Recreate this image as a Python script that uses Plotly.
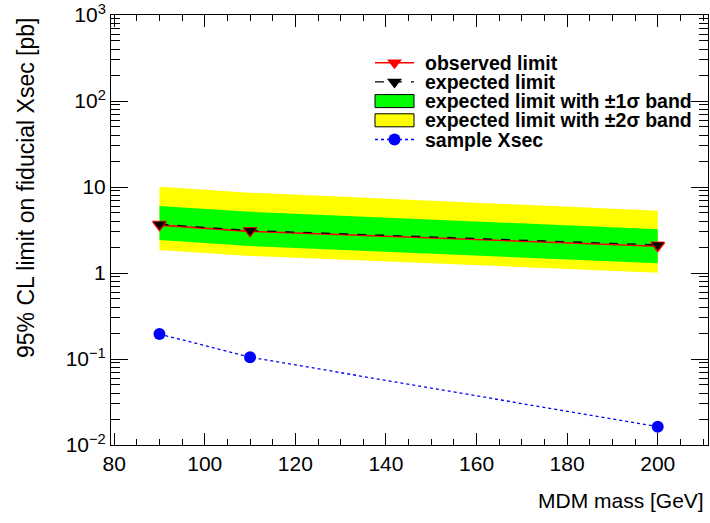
import plotly.graph_objects as go

# ---------------- data ----------------
mass = [90, 110, 200]
observed = [3.6, 3.05, 2.05]
expected = [3.7, 3.12, 2.12]
band1_lo = [2.42, 2.06, 1.30]
band1_hi = [6.0, 5.16, 3.22]
band2_lo = [1.85, 1.58, 1.01]
band2_hi = [10.1, 8.6, 5.3]
sample_xsec = [0.195, 0.105, 0.0163]

SUP = '<sup style="font-size:17px">'
ytick_vals = [0.01, 0.1, 1, 10, 100, 1000]
ytick_text = ["10" + SUP + "\u22122</sup>", "10" + SUP + "\u22121</sup>", "1", "10",
              "10" + SUP + "2</sup>", "10" + SUP + "3</sup>"]
legend_labels = ["observed limit", "expected limit",
                 "expected limit with \u00b11\u03c3 band",
                 "expected limit with \u00b12\u03c3 band", "sample Xsec"]
x_title = "MDM mass [GeV]"
y_title = "95% CL limit on fiducial Xsec [pb]"

# ---------------- layout constants ----------------
FONT = "Liberation Sans"
W, H = 710, 523
L, R, T, B = 111, 2, 15, 78
PW, PH = W - L - R, H - T - B


def px(x):
    return (x - L) / PW


def py(y):
    return (H - B - y) / PH


fig = go.Figure()

# bands
fig.add_trace(go.Scatter(x=mass + mass[::-1], y=band2_hi + band2_lo[::-1], fill="toself",
                         fillcolor="#ffff00", line=dict(width=0), mode="lines",
                         showlegend=False, hoverinfo="skip"))
fig.add_trace(go.Scatter(x=mass + mass[::-1], y=band1_hi + band1_lo[::-1], fill="toself",
                         fillcolor="#00ff00", line=dict(width=0), mode="lines",
                         showlegend=False, hoverinfo="skip"))
fig.add_trace(go.Scatter(x=mass, y=observed, mode="lines+markers", showlegend=False,
                         line=dict(color="red", width=1.6),
                         marker=dict(symbol="triangle-down", size=13, color="red")))
fig.add_trace(go.Scatter(x=mass, y=expected, mode="lines+markers", showlegend=False,
                         line=dict(color="black", width=1.3, dash="dash"),
                         marker=dict(symbol="triangle-down", size=12, color="black",
                                     line=dict(color="red", width=0.8))))
fig.add_trace(go.Scatter(x=mass, y=sample_xsec, mode="lines+markers", showlegend=False,
                         line=dict(color="blue", width=1.3, dash="dot"),
                         marker=dict(symbol="circle", size=12, color="blue")))

# ---------------- hand-drawn legend (overlay pixel axes) ----------------
LX0, LX1, LXM, LTX = 375, 414, 394.5, 423
ROW0, DROW = 62.7, 19.2
rows = [ROW0 + i * DROW for i in range(len(legend_labels))]

leg_styles = [
    (dict(color="red", width=1.6), dict(symbol="triangle-down", color="red", size=13)),
    (dict(color="black", width=1.3, dash="dash"), dict(symbol="triangle-down", color="black", size=13)),
    None,
    None,
    (dict(color="blue", width=1.3, dash="dot"), dict(symbol="circle", color="blue", size=12)),
]
band_fill = {2: "#00ff00", 3: "#ffff00"}

shapes = []
annotations = []
for i, (lab, ry) in enumerate(zip(legend_labels, rows)):
    st = leg_styles[i]
    if st is not None:
        fig.add_trace(go.Scatter(x=[LX0, LX1], y=[ry, ry], mode="lines",
                                 xaxis="x2", yaxis="y2", showlegend=False, hoverinfo="skip",
                                 line=st[0]))
        fig.add_trace(go.Scatter(x=[LXM], y=[ry], mode="markers",
                                 xaxis="x2", yaxis="y2", showlegend=False, hoverinfo="skip",
                                 marker=st[1]))
    else:
        shapes.append(dict(type="rect", xref="paper", yref="paper",
                           x0=px(LX0), x1=px(LX1), y0=py(ry + 6.5), y1=py(ry - 6.5),
                           fillcolor=band_fill[i], line=dict(color="black", width=1)))
    annotations.append(dict(text=lab, xref="paper", yref="paper", x=px(LTX), y=py(ry),
                            xanchor="left", yanchor="middle", showarrow=False,
                            font=dict(family=FONT, size=19.5, weight="bold", color="black")))

annotations.append(dict(text=x_title, xref="paper", yref="paper", x=px(706), y=py(500),
                        xanchor="right", yanchor="middle", showarrow=False,
                        font=dict(family=FONT, size=21)))
annotations.append(dict(text=y_title, xref="paper", yref="paper", x=px(26), y=py(188),
                        xanchor="center", yanchor="middle", textangle=-90, showarrow=False,
                        font=dict(family=FONT, size=23)))

fig.update_layout(
    width=W, height=H,
    margin=dict(l=L, r=R, t=T, b=B),
    paper_bgcolor="white", plot_bgcolor="white",
    font=dict(family=FONT, size=21, color="black"),
    showlegend=False,
    xaxis=dict(range=[79.3, 211.1], showline=True, linecolor="black", linewidth=1,
               mirror="allticks", ticks="inside", ticklen=12, tickcolor="black",
               dtick=20, tick0=80, showgrid=False, zeroline=False,
               minor=dict(ticks="inside", ticklen=6, dtick=5, tickcolor="black", showgrid=False)),
    yaxis=dict(type="log", range=[-2, 3], showline=True, linecolor="black", linewidth=1,
               mirror="allticks", ticks="inside", ticklen=17, tickcolor="black",
               tickvals=ytick_vals, ticktext=ytick_text, showgrid=False, zeroline=False,
               minor=dict(ticks="inside", ticklen=9, dtick="D1", tickcolor="black", showgrid=False)),
    xaxis2=dict(overlaying="x", anchor="y2", range=[L, W - R], visible=False, fixedrange=True),
    yaxis2=dict(overlaying="y", anchor="x2", range=[H - B, T], visible=False, fixedrange=True),
    shapes=shapes,
    annotations=annotations,
)

fig.write_html("out.html", config={"displayModeBar": False},
               post_script="document.body.style.margin='0';")
